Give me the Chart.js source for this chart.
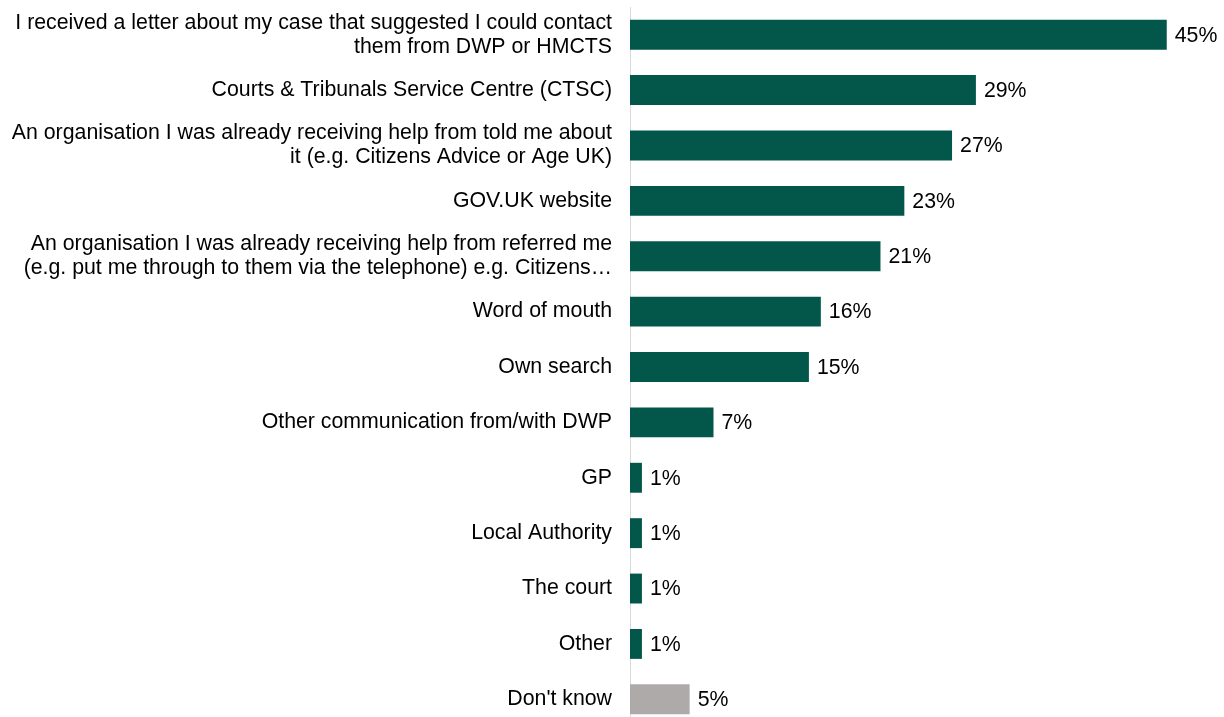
<!DOCTYPE html>
<html>
<head>
<meta charset="utf-8">
<script src="https://cdn.jsdelivr.net/npm/chart.js@4/dist/chart.umd.min.js"></script>
<style>
  html, body { margin: 0; padding: 0; background: #fff; overflow: hidden; }
  #wrap { position: relative; width: 1224px; height: 727px; }
</style>
</head>
<body>
<div id="wrap"><canvas id="sources"></canvas></div>
<script>
const categories = [
  ["I received a letter about my case that suggested I could contact", "them from DWP or HMCTS"],
  "Courts & Tribunals Service Centre (CTSC)",
  ["An organisation I was already receiving help from told me about", "it (e.g. Citizens Advice or Age UK)"],
  "GOV.UK website",
  ["An organisation I was already receiving help from referred me", "(e.g. put me through to them via the telephone) e.g. Citizens\u2026"],
  "Word of mouth",
  "Own search",
  "Other communication from/with DWP",
  "GP",
  "Local Authority",
  "The court",
  "Other",
  "Don't know"
];
const values = [45, 29, 27, 23, 21, 16, 15, 7, 1, 1, 1, 1, 5];
const barColours = values.map((v, i) => i == values.length - 1 ? '#AEAAAA' : '#03574A');

const fontFamily = '"Liberation Sans", Arial, sans-serif';

// writes the percentage just past the end of each bar
const valueLabels = {
  id: 'valueLabels',
  afterDatasetsDraw(chart) {
    const ctx = chart.ctx;
    const meta = chart.getDatasetMeta(0);
    ctx.save();
    ctx.font = '21.3px ' + fontFamily;
    ctx.fillStyle = '#000';
    ctx.textAlign = 'left';
    ctx.textBaseline = 'middle';
    meta.data.forEach((bar, i) => {
      ctx.fillText(values[i] + '%', bar.x + 8, bar.y + 1);
    });
    ctx.restore();
  }
};

const chart = new Chart(document.getElementById('sources'), {
  type: 'bar',
  data: {
    labels: categories,
    datasets: [{
      data: values,
      backgroundColor: barColours,
      barPercentage: 0.54,
      categoryPercentage: 1
    }]
  },
  options: {
    indexAxis: 'y',
    responsive: true,
    maintainAspectRatio: false,
    animation: false,
    layout: { padding: { top: 7, right: 0, bottom: 0, left: 0 } },
    plugins: {
      legend: { display: false },
      tooltip: { enabled: false }
    },
    scales: {
      x: {
        display: false,
        min: 0,
        max: 49.8
      },
      y: {
        afterFit(scale) {
          scale.width = 630;
          scale.paddingTop = 0;
          scale.paddingBottom = 0;
        },
        grid: { display: false, drawTicks: false },
        border: { display: true, color: '#D9D9D9', width: 1 },
        ticks: {
          color: '#000',
          padding: 18,
          font: { family: fontFamily, size: 21.3, lineHeight: 1.13 }
        }
      }
    }
  },
  plugins: [valueLabels]
});
</script>
</body>
</html>
